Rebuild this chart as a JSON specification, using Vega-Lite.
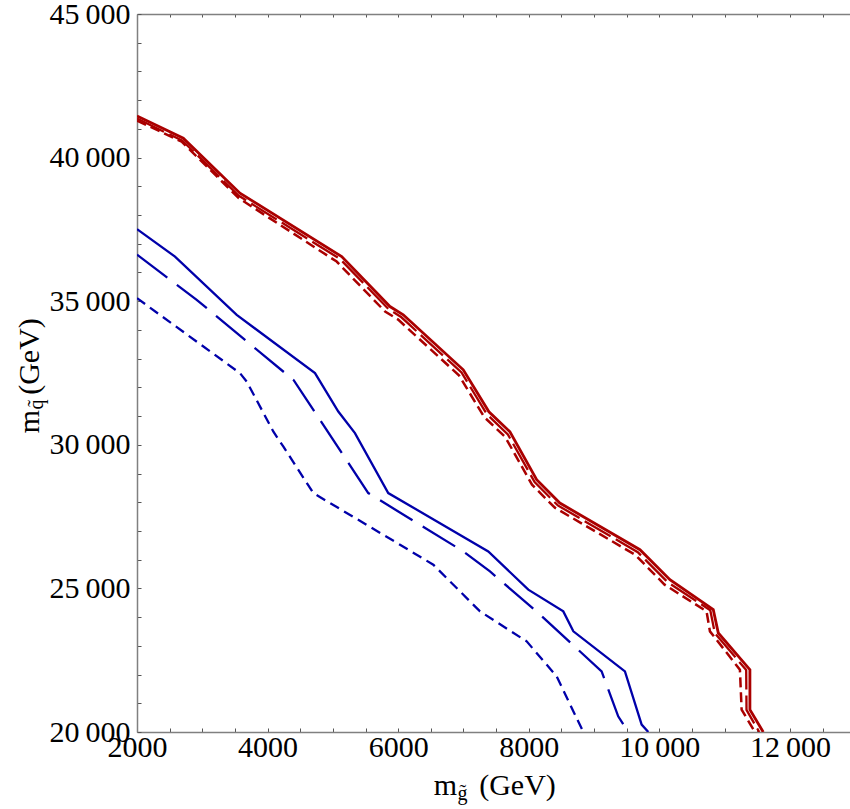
{
  "$schema": "https://vega.github.io/schema/vega-lite/v6.json",
  "width": 713,
  "height": 718,
  "autosize": {"type": "none"},
  "padding": {"left": 137, "top": 14, "right": 0, "bottom": 77},
  "background": "white",
  "config": {
    "view": {"stroke": null},
    "axis": {
      "grid": false,
      "labelFont": "Liberation Serif",
      "titleFont": "Liberation Serif",
      "titleFontWeight": "normal",
      "labelColor": "black",
      "titleColor": "black",
      "domainColor": "#808080",
      "domainWidth": 1.5,
      "tickColor": "#555555",
      "tickWidth": 1,
      "labelFlush": false,
      "labelOverlap": false,
      "labelBound": false
    }
  },
  "data": {
    "values": [
      {"s": "rs", "o": 1, "x": 2000, "y": 41450},
      {"s": "rs", "o": 2, "x": 2709, "y": 40674},
      {"s": "rs", "o": 3, "x": 3577, "y": 38760},
      {"s": "rs", "o": 4, "x": 5135, "y": 36554},
      {"s": "rs", "o": 5, "x": 5874, "y": 34814},
      {"s": "rs", "o": 6, "x": 6078, "y": 34525},
      {"s": "rs", "o": 7, "x": 6997, "y": 32611},
      {"s": "rs", "o": 8, "x": 7390, "y": 31149},
      {"s": "rs", "o": 9, "x": 7712, "y": 30453},
      {"s": "rs", "o": 10, "x": 8121, "y": 28783},
      {"s": "rs", "o": 11, "x": 8476, "y": 27972},
      {"s": "rs", "o": 12, "x": 9703, "y": 26347},
      {"s": "rs", "o": 13, "x": 10162, "y": 25303},
      {"s": "rs", "o": 14, "x": 10826, "y": 24259},
      {"s": "rs", "o": 15, "x": 10903, "y": 23447},
      {"s": "rs", "o": 16, "x": 11387, "y": 22170},
      {"s": "rs", "o": 17, "x": 11387, "y": 20779},
      {"s": "rs", "o": 18, "x": 11591, "y": 20000},

      {"s": "rl", "o": 1, "x": 2000, "y": 41360},
      {"s": "rl", "o": 2, "x": 2695, "y": 40590},
      {"s": "rl", "o": 3, "x": 3560, "y": 38670},
      {"s": "rl", "o": 4, "x": 5110, "y": 36470},
      {"s": "rl", "o": 5, "x": 5850, "y": 34730},
      {"s": "rl", "o": 6, "x": 6050, "y": 34440},
      {"s": "rl", "o": 7, "x": 6970, "y": 32520},
      {"s": "rl", "o": 8, "x": 7360, "y": 31060},
      {"s": "rl", "o": 9, "x": 7680, "y": 30360},
      {"s": "rl", "o": 10, "x": 8090, "y": 28700},
      {"s": "rl", "o": 11, "x": 8445, "y": 27890},
      {"s": "rl", "o": 12, "x": 9670, "y": 26260},
      {"s": "rl", "o": 13, "x": 10125, "y": 25220},
      {"s": "rl", "o": 14, "x": 10780, "y": 24240},
      {"s": "rl", "o": 15, "x": 10850, "y": 23440},
      {"s": "rl", "o": 16, "x": 11330, "y": 22160},
      {"s": "rl", "o": 17, "x": 11335, "y": 20770},
      {"s": "rl", "o": 18, "x": 11530, "y": 20000},

      {"s": "rd", "o": 1, "x": 2000, "y": 41290},
      {"s": "rd", "o": 2, "x": 2684, "y": 40556},
      {"s": "rd", "o": 3, "x": 3560, "y": 38586},
      {"s": "rd", "o": 4, "x": 5058, "y": 36380},
      {"s": "rd", "o": 5, "x": 5800, "y": 34640},
      {"s": "rd", "o": 6, "x": 6000, "y": 34360},
      {"s": "rd", "o": 7, "x": 6930, "y": 32420},
      {"s": "rd", "o": 8, "x": 7320, "y": 30960},
      {"s": "rd", "o": 9, "x": 7640, "y": 30270},
      {"s": "rd", "o": 10, "x": 8050, "y": 28610},
      {"s": "rd", "o": 11, "x": 8400, "y": 27810},
      {"s": "rd", "o": 12, "x": 9630, "y": 26170},
      {"s": "rd", "o": 13, "x": 10080, "y": 25130},
      {"s": "rd", "o": 14, "x": 10723, "y": 24200},
      {"s": "rd", "o": 15, "x": 10775, "y": 23504},
      {"s": "rd", "o": 16, "x": 11234, "y": 22170},
      {"s": "rd", "o": 17, "x": 11260, "y": 20779},
      {"s": "rd", "o": 18, "x": 11464, "y": 20000},

      {"s": "bs", "o": 1, "x": 2000, "y": 37507},
      {"s": "bs", "o": 2, "x": 2582, "y": 36554},
      {"s": "bs", "o": 3, "x": 3527, "y": 34525},
      {"s": "bs", "o": 4, "x": 4726, "y": 32496},
      {"s": "bs", "o": 5, "x": 5083, "y": 31160},
      {"s": "bs", "o": 6, "x": 5338, "y": 30408},
      {"s": "bs", "o": 7, "x": 5848, "y": 28320},
      {"s": "bs", "o": 8, "x": 7380, "y": 26288},
      {"s": "bs", "o": 9, "x": 7993, "y": 24955},
      {"s": "bs", "o": 10, "x": 8529, "y": 24200},
      {"s": "bs", "o": 11, "x": 8683, "y": 23504},
      {"s": "bs", "o": 12, "x": 9473, "y": 22111},
      {"s": "bs", "o": 13, "x": 9729, "y": 20257},
      {"s": "bs", "o": 14, "x": 9831, "y": 20000},

      {"s": "bl", "o": 1, "x": 2000, "y": 36620},
      {"s": "bl", "o": 2, "x": 2914, "y": 35047},
      {"s": "bl", "o": 3, "x": 4400, "y": 32250},
      {"s": "bl", "o": 4, "x": 5542, "y": 28320},
      {"s": "bl", "o": 5, "x": 6997, "y": 26288},
      {"s": "bl", "o": 6, "x": 7406, "y": 25592},
      {"s": "bl", "o": 7, "x": 8146, "y": 24144},
      {"s": "bl", "o": 8, "x": 9116, "y": 22111},
      {"s": "bl", "o": 9, "x": 9370, "y": 20545},
      {"s": "bl", "o": 10, "x": 9524, "y": 20000},

      {"s": "bd", "o": 1, "x": 2000, "y": 35106},
      {"s": "bd", "o": 2, "x": 3577, "y": 32496},
      {"s": "bd", "o": 3, "x": 3680, "y": 32204},
      {"s": "bd", "o": 4, "x": 4087, "y": 30464},
      {"s": "bd", "o": 5, "x": 4240, "y": 29942},
      {"s": "bd", "o": 6, "x": 4700, "y": 28320},
      {"s": "bd", "o": 7, "x": 6028, "y": 26521},
      {"s": "bd", "o": 8, "x": 6538, "y": 25825},
      {"s": "bd", "o": 9, "x": 7253, "y": 24200},
      {"s": "bd", "o": 10, "x": 7968, "y": 23156},
      {"s": "bd", "o": 11, "x": 8427, "y": 21938},
      {"s": "bd", "o": 12, "x": 8835, "y": 20000}
    ]
  },
  "layer": [
    {
      "transform": [{"filter": "datum.s === 'bs'"}],
      "mark": {"type": "line", "color": "#0000aa", "strokeWidth": 2.3, "clip": true},
      "encoding": {
        "order": {"field": "o", "type": "quantitative"},
        "x": {
          "field": "x", "type": "quantitative",
          "scale": {"domain": [2000, 12920], "nice": false, "zero": false},
          "axis": {
            "orient": "bottom",
            "values": [2000, 2500, 3000, 3500, 4000, 4500, 5000, 5500, 6000, 6500, 7000, 7500, 8000, 8500, 9000, 9500, 10000, 10500, 11000, 11500, 12000, 12500],
            "labelExpr": "datum.value % 2000 === 0 ? (datum.value >= 10000 ? replace(format(datum.value, ','), ',', '\u2009') : format(datum.value, 'd')) : ''",
            "labelFontSize": 30,
            "labelPadding": 4,
            "tickSize": -4,
            "title": "(GeV)",
            "titleFontSize": 30,
            "titleX": 380,
            "titleY": 62,
            "titleAlign": "center",
            "titleBaseline": "alphabetic"
          }
        },
        "y": {
          "field": "y", "type": "quantitative",
          "scale": {"domain": [20000, 45000], "nice": false, "zero": false},
          "axis": {
            "orient": "left",
            "values": [20000, 21000, 22000, 23000, 24000, 25000, 26000, 27000, 28000, 29000, 30000, 31000, 32000, 33000, 34000, 35000, 36000, 37000, 38000, 39000, 40000, 41000, 42000, 43000, 44000, 45000],
            "labelExpr": "datum.value % 5000 === 0 ? replace(format(datum.value, ','), ',', '\u2009') : ''",
            "labelFontSize": 30,
            "labelPadding": 11,
            "tickSize": -4,
            "title": "(GeV)",
            "titleFontSize": 30,
            "titleAngle": -90,
            "titleX": -99,
            "titleY": 342,
            "titleAlign": "center",
            "titleBaseline": "alphabetic"
          }
        }
      }
    },
    {
      "transform": [{"filter": "datum.s === 'bl'"}],
      "mark": {"type": "line", "color": "#0000aa", "strokeWidth": 2.3, "strokeDash": [38, 12], "clip": true},
      "encoding": {
        "order": {"field": "o", "type": "quantitative"},
        "x": {
          "field": "x", "type": "quantitative",
          "axis": {
            "orient": "top",
            "values": [2000, 2500, 3000, 3500, 4000, 4500, 5000, 5500, 6000, 6500, 7000, 7500, 8000, 8500, 9000, 9500, 10000, 10500, 11000, 11500, 12000, 12500],
            "labels": false,
            "tickSize": -3,
            "title": null
          }
        },
        "y": {
          "field": "y", "type": "quantitative",
          "axis": {
            "orient": "left",
            "domain": false, "ticks": false, "labels": false,
            "title": "m",
            "titleFontSize": 30,
            "titleAngle": -90,
            "titleX": -99,
            "titleY": 407,
            "titleAlign": "center",
            "titleBaseline": "alphabetic"
          }
        }
      }
    },
    {
      "transform": [{"filter": "datum.s === 'bd'"}],
      "mark": {"type": "line", "color": "#0000aa", "strokeWidth": 2.3, "strokeDash": [10, 6], "clip": true},
      "encoding": {
        "order": {"field": "o", "type": "quantitative"},
        "x": {
          "field": "x", "type": "quantitative",
          "axis": {
            "orient": "bottom",
            "domain": false, "ticks": false, "labels": false,
            "title": "m",
            "titleFontSize": 30,
            "titleX": 308,
            "titleY": 62,
            "titleAlign": "center",
            "titleBaseline": "alphabetic"
          }
        },
        "y": {
          "field": "y", "type": "quantitative",
          "axis": {
            "orient": "left",
            "domain": false, "ticks": false, "labels": false,
            "title": "q\u0303",
            "titleFontSize": 20,
            "titleAngle": -90,
            "titleX": -95,
            "titleY": 390,
            "titleAlign": "center",
            "titleBaseline": "alphabetic"
          }
        }
      }
    },
    {
      "transform": [{"filter": "datum.s === 'rs'"}],
      "mark": {"type": "line", "color": "#aa0000", "strokeWidth": 2.8, "clip": true},
      "encoding": {
        "order": {"field": "o", "type": "quantitative"},
        "x": {
          "field": "x", "type": "quantitative",
          "axis": {
            "orient": "bottom",
            "domain": false, "ticks": false, "labels": false,
            "title": "g\u0303",
            "titleFontSize": 20,
            "titleX": 325,
            "titleY": 67,
            "titleAlign": "center",
            "titleBaseline": "alphabetic"
          }
        },
        "y": {"field": "y", "type": "quantitative", "axis": null}
      }
    },
    {
      "transform": [{"filter": "datum.s === 'rl'"}],
      "mark": {"type": "line", "color": "#aa0000", "strokeWidth": 2.3, "strokeDash": [30, 6], "clip": true},
      "encoding": {
        "order": {"field": "o", "type": "quantitative"},
        "x": {"field": "x", "type": "quantitative", "axis": null},
        "y": {"field": "y", "type": "quantitative", "axis": null}
      }
    },
    {
      "transform": [{"filter": "datum.s === 'rd'"}],
      "mark": {"type": "line", "color": "#aa0000", "strokeWidth": 2.5, "strokeDash": [10, 5], "clip": true},
      "encoding": {
        "order": {"field": "o", "type": "quantitative"},
        "x": {"field": "x", "type": "quantitative", "axis": null},
        "y": {"field": "y", "type": "quantitative", "axis": null}
      }
    }
  ],
  "resolve": {"axis": {"x": "independent", "y": "independent"}}
}
